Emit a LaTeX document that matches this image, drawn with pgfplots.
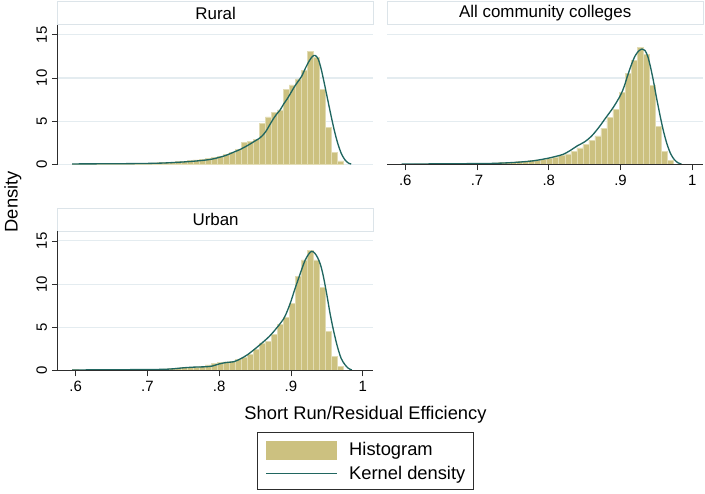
\documentclass[border=0pt]{standalone}
\usepackage{fontspec}
\setmainfont{Liberation Sans}
\usepackage{pgfplots}
\pgfplotsset{compat=1.18}
\usepackage{pgfplotstable}

\definecolor{histfill}{RGB}{204,193,128}
\definecolor{histedge}{RGB}{226,220,180}
\definecolor{kdens}{RGB}{32,102,96}
\definecolor{gridc}{RGB}{228,236,240}
\definecolor{boxc}{RGB}{220,228,233}
\definecolor{axc}{RGB}{45,45,45}

\pgfplotstableread{
x      rural  all   urban
0.5997 0.05 0.03 0.08
0.6081 0.04 0.03 0.05
0.6165 0.05 0.04 0.06
0.6249 0.06 0.04 0.05
0.6333 0.05 0.04 0.07
0.6417 0.06 0.05 0.06
0.6501 0.08 0.05 0.08
0.6585 0.07 0.06 0.07
0.6669 0.09 0.07 0.09
0.6753 0.10 0.07 0.10
0.6837 0.10 0.08 0.10
0.6921 0.12 0.09 0.12
0.7005 0.13 0.10 0.10
0.7089 0.15 0.11 0.12
0.7173 0.18 0.13 0.15
0.7257 0.22 0.15 0.18
0.7341 0.26 0.18 0.22
0.7425 0.30 0.22 0.30
0.7509 0.36 0.26 0.35
0.7593 0.42 0.30 0.38
0.7677 0.50 0.36 0.42
0.7761 0.60 0.42 0.50
0.7845 0.68 0.50 0.65
0.7929 0.80 0.60 0.85
0.8013 0.95 0.72 0.95
0.8097 1.15 0.85 1.00
0.8181 1.40 1.00 1.05
0.8265 1.70 1.20 1.30
0.8349 2.50 1.50 1.55
0.8433 2.65 1.90 1.90
0.8517 2.90 2.30 2.40
0.8601 4.70 2.80 3.20
0.8685 5.50 3.30 3.40
0.8769 6.00 4.20 4.15
0.8853 6.30 5.40 5.30
0.8937 8.70 6.40 6.10
0.9021 9.20 8.30 7.80
0.9105 9.90 10.50 10.90
0.9189 10.90 12.00 12.80
0.9273 13.10 13.50 13.90
0.9357 12.40 12.70 12.80
0.9441 8.70 9.10 9.60
0.9525 4.30 4.40 4.50
0.9609 1.35 1.50 1.65
0.9693 0.40 0.45 0.50
}\hist

\pgfplotstableread{
x     y
0.595 0.04
0.620 0.05
0.650 0.06
0.680 0.08
0.700 0.10
0.720 0.14
0.735 0.20
0.750 0.27
0.765 0.36
0.780 0.48
0.790 0.60
0.800 0.80
0.810 1.05
0.820 1.40
0.830 1.75
0.840 2.20
0.850 2.70
0.855 2.95
0.860 3.30
0.865 3.80
0.870 4.50
0.875 5.20
0.880 5.80
0.885 6.30
0.890 7.00
0.895 7.60
0.900 8.30
0.905 9.00
0.910 9.60
0.915 10.20
0.920 11.10
0.925 11.90
0.930 12.50
0.934 12.60
0.938 12.20
0.942 11.10
0.946 9.60
0.950 8.00
0.955 6.00
0.960 4.10
0.965 2.50
0.970 1.30
0.975 0.55
0.980 0.15
0.984 0.03
}\kdrural

\pgfplotstableread{
x     y
0.595 0.03
0.620 0.04
0.650 0.05
0.680 0.07
0.700 0.08
0.720 0.10
0.740 0.16
0.760 0.26
0.780 0.42
0.800 0.72
0.810 0.92
0.820 1.15
0.830 1.60
0.840 2.15
0.850 2.60
0.860 3.30
0.870 4.30
0.880 5.45
0.890 6.60
0.900 8.00
0.905 9.00
0.910 10.30
0.915 11.50
0.920 12.50
0.925 13.10
0.930 13.35
0.934 13.20
0.938 12.50
0.942 11.20
0.946 9.60
0.950 7.80
0.955 5.70
0.960 3.80
0.965 2.30
0.970 1.20
0.975 0.55
0.980 0.18
0.985 0.03
}\kdall

\pgfplotstableread{
x     y
0.595 0.05
0.620 0.06
0.650 0.07
0.680 0.09
0.700 0.11
0.720 0.12
0.735 0.18
0.750 0.30
0.765 0.38
0.780 0.42
0.790 0.50
0.800 0.75
0.810 0.92
0.820 1.00
0.830 1.35
0.840 1.85
0.850 2.50
0.860 3.20
0.870 3.95
0.880 4.90
0.890 6.00
0.895 6.90
0.900 8.00
0.905 9.30
0.910 10.50
0.915 11.70
0.920 12.80
0.925 13.50
0.929 13.80
0.933 13.60
0.937 13.10
0.941 12.30
0.945 11.00
0.950 8.80
0.955 6.40
0.960 4.40
0.965 2.70
0.970 1.40
0.975 0.70
0.980 0.25
0.985 0.05
}\kdurban

\pgfplotsset{
  layers/stata/.define layer set={axis background,axis grid,main,axis ticks,axis lines,axis tick labels,axis descriptions,axis foreground}{/pgfplots/layers/standard},
  panel/.style={
    set layers=stata,
    scale only axis, width=237.75pt, height=105pt, anchor=south west,
    xmin=0.575, xmax=1.015, ymin=0, ymax=16.15,
    axis lines*=left, separate axis lines,
    axis line style={axc, line width=0.6pt, -},
    xtick={0.6,0.7,0.8,0.9,1}, xticklabels={.6,.7,.8,.9,1},
    ytick={0,5,10,15}, yticklabels={0,5,10,15},
    tick align=outside, major tick length=4.5pt,
    tick style={axc, line width=0.6pt},
    ymajorgrids, major grid style={gridc, line width=0.8pt},
    ticklabel style={font=\fontsize{11.25}{13}\selectfont},
    yticklabel style={rotate=90, anchor=south},
    clip=false,
  },
  hist/.style={ybar, bar width=0.0084, bar shift=0pt, fill=histfill, draw=histedge, line width=0.4pt},
  kd/.style={kdens, line width=1pt, smooth, no markers},
}

\begin{document}
\begin{tikzpicture}
\path (0pt,0pt) rectangle (528.75pt,372pt);

% Rural
\begin{axis}[panel, at={(41.25pt,248.25pt)},
  x axis line style={draw=none}, xtick style={draw=none}, xticklabels={}]
  \addplot[hist] table[x=x, y=rural] {\hist};
  \addplot[kd] table[x=x, y=y] {\kdrural};
\end{axis}

% All community colleges
\begin{axis}[panel, at={(289.5pt,248.25pt)},
  y axis line style={draw=none}, ytick style={draw=none}, yticklabels={}]
  \addplot[hist] table[x=x, y=all] {\hist};
  \addplot[kd] table[x=x, y=y] {\kdall};
\end{axis}

% Urban
\begin{axis}[panel, at={(41.25pt,93pt)},
  legend style={at={(0.9748,-0.65)}, anchor=center, draw=axc, line width=0.6pt, fill=white,
    font=\fontsize{13.8}{16}\selectfont, inner xsep=6pt, inner ysep=6pt, row sep=5pt,
    cells={anchor=west}, nodes={inner sep=0pt}}]
  \addplot[hist, legend image code/.code={\fill[histfill] (0pt,-6.75pt) rectangle (53pt,6.75pt); \path (62pt,0pt);}] table[x=x, y=urban] {\hist};
  \addlegendentry{Histogram}
  \addplot[kd, legend image code/.code={\draw[kdens, line width=1pt] (0pt,0pt) -- (53pt,0pt); \path (62pt,0pt);}] table[x=x, y=y] {\kdurban};
  \addlegendentry{Kernel density}
\end{axis}

% panel titles
\draw[boxc, fill=white, line width=0.75pt] (41.25pt,353.25pt) rectangle (279pt,370.5pt);
\node[font=\fontsize{12.75}{15}\selectfont] at (160.125pt,361.875pt) {Rural};
\draw[boxc, fill=white, line width=0.75pt] (289.5pt,353.25pt) rectangle (527.25pt,370.5pt);
\node[font=\fontsize{12.75}{15}\selectfont] at (408.375pt,361.875pt) {All community colleges};
\draw[boxc, fill=white, line width=0.75pt] (41.25pt,198pt) rectangle (279pt,215.25pt);
\node[font=\fontsize{12.75}{15}\selectfont] at (160.125pt,206.6pt) {Urban};

% axis titles
\node[font=\fontsize{13.8}{16}\selectfont, rotate=90] at (7.5pt,220pt) {Density};
\node[font=\fontsize{13.8}{16}\selectfont] at (273pt,59.5pt) {Short Run/Residual Efficiency};
\end{tikzpicture}
\end{document}
